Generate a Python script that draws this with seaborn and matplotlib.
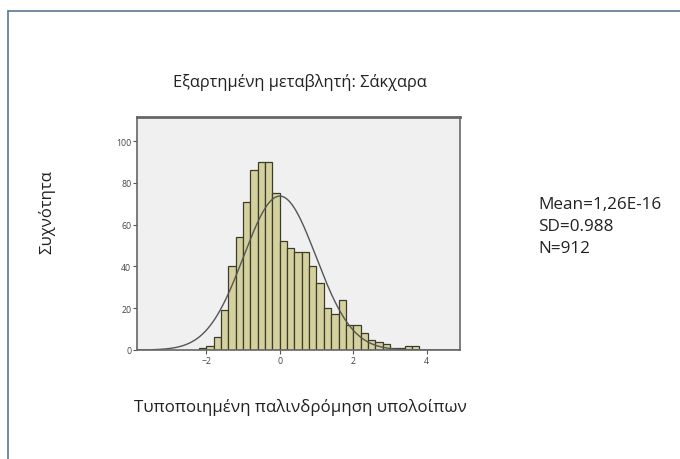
import numpy as np
import pandas as pd
import matplotlib
matplotlib.use("Agg")
import matplotlib.pyplot as plt
from matplotlib.lines import Line2D
import seaborn as sns

# ---- data ----
bin_starts = [-2.2, -2.0, -1.8, -1.6, -1.4, -1.2, -1.0, -0.8, -0.6, -0.4,
              -0.2, 0.0, 0.2, 0.4, 0.6, 0.8, 1.0, 1.2, 1.4, 1.6,
              1.8, 2.0, 2.2, 2.4, 2.6, 2.8, 3.0, 3.2, 3.4, 3.6]
counts = [1, 2, 6, 19, 40, 54, 71, 86, 90, 90,
          75, 52, 49, 47, 47, 40, 32, 20, 17, 24,
          12, 12, 8, 5, 4, 3, 1, 1, 2, 2]
bin_width = 0.2
mean_val = 1.26e-16
sd_val = 0.988
n_val = 912
x_ticks = [-2, 0, 2, 4]
y_ticks = [0, 20, 40, 60, 80, 100]
title = "Εξαρτημένη μεταβλητή: Σάκχαρα"
xlabel = "Τυποποιημένη παλινδρόμηση υπολοίπων"
ylabel = "Συχνότητα"
stats_lines = ["Mean=1,26E-16", "SD=0.988", "N=912"]

sns.set_theme(style="white")
plt.rcParams['font.family'] = ['Open Sans', 'Noto Sans', 'DejaVu Sans']

fig = plt.figure(figsize=(6.8, 4.6), dpi=100)
fig.patch.set_facecolor("white")
ax = fig.add_axes([137/680, 1 - 351/460, (460 - 137)/680, (351 - 118)/460])
ax.set_facecolor("#f0f0f0")

df = pd.DataFrame({"x": [b + bin_width / 2 for b in bin_starts], "w": counts})
edges = list(bin_starts) + [bin_starts[-1] + bin_width]
sns.histplot(data=df, x="x", weights="w", bins=edges, ax=ax,
             color="#d5d19e", edgecolor="#3c3c2c", linewidth=0.9, alpha=1.0)

# normal curve from the stated mean / SD
xs = np.linspace(-3.89, 4.91, 400)
ys = n_val * bin_width * np.exp(-0.5 * ((xs - mean_val) / sd_val) ** 2) / (sd_val * np.sqrt(2 * np.pi))
sns.lineplot(x=xs, y=ys, ax=ax, color="#555555", linewidth=1.0)

ax.set_xlim(-3.89, 4.91)
ax.set_ylim(0, 111.5)
ax.set_xticks(x_ticks)
ax.set_yticks(y_ticks)
ax.tick_params(axis="both", labelsize=6.3, labelcolor="#444444", direction="out",
               length=3, width=0.8, color="#555555", pad=1, bottom=True, left=True)
ax.set_xlabel("")
ax.set_ylabel("")
for s in ax.spines.values():
    s.set_color("#666666")
    s.set_linewidth(1.2)
ax.spines["top"].set_linewidth(2.0)

fig.text(300/680, 1 - 83/460, title, ha="center", va="center", fontsize=11.8, color="#222222")
fig.text(300/680, 1 - 408/460, xlabel, ha="center", va="center", fontsize=12.2, color="#222222")
fig.text(47/680, 1 - 212/460, ylabel, ha="center", va="center", rotation=90, fontsize=12, color="#222222")
for i, line in enumerate(stats_lines):
    fig.text(538/680, 1 - (205 + 22 * i)/460, line, ha="left", va="center", fontsize=12.3, color="#222222")

# outer frame (top and left edges visible)
fc = "#5a7896"
fig.add_artist(Line2D([8/680, 1.0], [1 - 12/460, 1 - 12/460], transform=fig.transFigure, color=fc, lw=1.2))
fig.add_artist(Line2D([8/680, 8/680], [0, 1 - 12/460], transform=fig.transFigure, color=fc, lw=1.2))

fig.savefig("out.png", dpi=100)
